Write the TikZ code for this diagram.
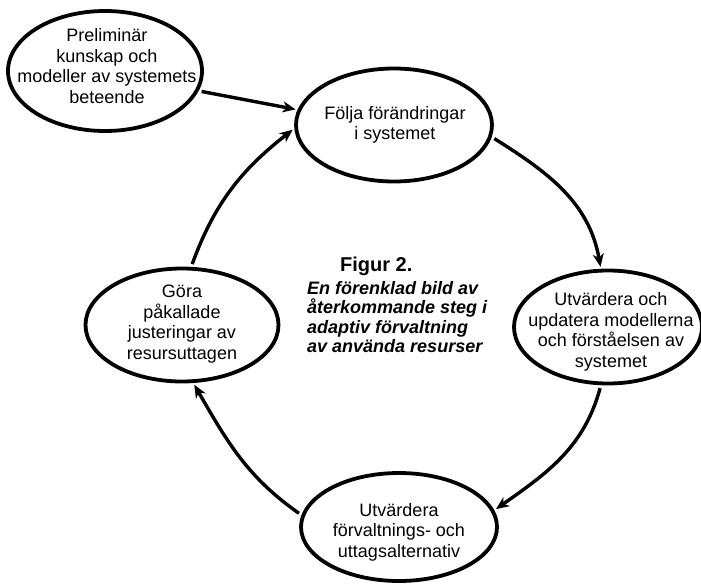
\documentclass[tikz,border=0pt]{standalone}
\usepackage{fontspec}
\setmainfont{Liberation Sans}
\usetikzlibrary{shapes.geometric,arrows.meta}
\tikzset{
  bub/.style={draw, ellipse, line width=3.8pt, inner sep=0pt},
  bubtext/.style={align=center, inner sep=0pt, font=\fontsize{18}{20.5}\selectfont},
  conn/.style={line width=3.4pt, -{Stealth[length=13pt,width=11pt,inset=4pt]},
    shorten <=3pt, shorten >=2pt},
}
\begin{document}
\begin{tikzpicture}[x=1pt,y=-1pt]
\useasboundingbox (0,0) rectangle (701,584);
\begin{scope}
\clip (0,0) rectangle (701,584);
\node[bub, minimum width=194pt, minimum height=120pt] (pre) at (105,71) {};
\node[bub, minimum width=196pt, minimum height=113pt] (fol) at (394,125) {};
\node[bub, minimum width=188pt, minimum height=113pt] (upd) at (608,327) {};
\node[bub, minimum width=196pt, minimum height=108pt] (alt) at (399,527) {};
\node[bub, minimum width=193pt, minimum height=113pt] (gor) at (182,325) {};
\end{scope}
\node[bubtext] (pret) at (107,66) {Preliminär\\kunskap och\\modeller av systemets\\beteende};
\node[bubtext] (folt) at (395,125) {Följa förändringar\\i systemet};
\node[bubtext] (updt) at (611,332) {Utvärdera och\\updatera modellerna\\och förståelsen av\\systemet};
\node[bubtext] (altt) at (399,532) {Utvärdera\\förvaltnings- och\\uttagsalternativ};
\node[bubtext] (gort) at (182,324) {Göra\\påkallade\\justeringar av\\resursuttagen};
\node[font=\fontsize{20}{24}\selectfont\bfseries, anchor=base west, inner sep=0pt] (fig) at (340,271) {Figur 2.};
\node[font=\fontsize{18}{19.5}\selectfont\bfseries\itshape, align=left, anchor=north west, inner sep=0pt] (cap) at (307,281)
  {En förenklad bild av\\återkommande steg i\\adaptiv förvaltning\\av använda resurser};
\draw[conn] (pre.-12) -- (fol.171);
\draw[conn] (fol.-7) to[out=-32, in=100] (upd.97);
\draw[conn] (upd.-97) to[out=-105, in=35] (alt.10);
\draw[conn] (alt.173) to[out=145, in=-60] (gor.-79);
\draw[conn] (gor.81) to[out=70, in=-142] (fol.182);
\end{tikzpicture}
\end{document}
